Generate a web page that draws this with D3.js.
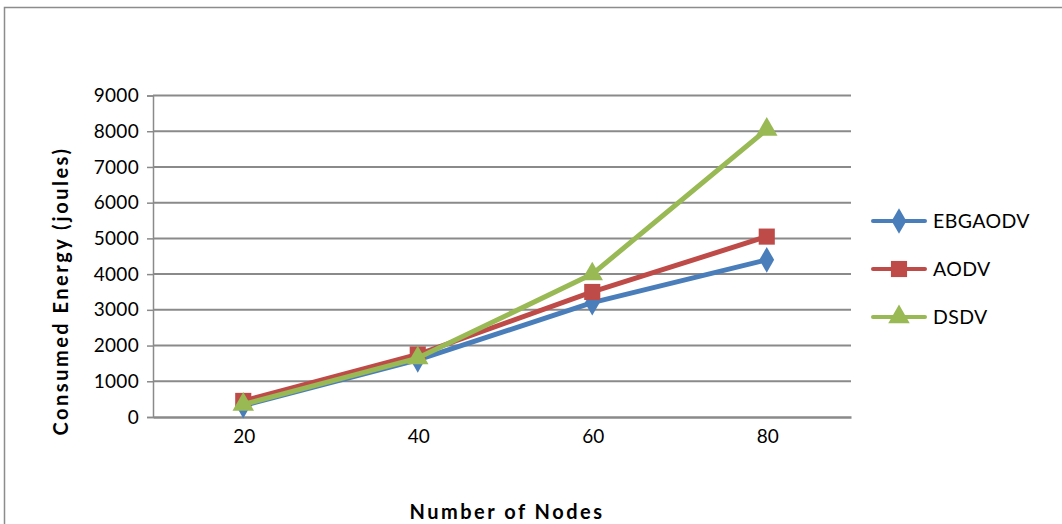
<!DOCTYPE html>
<html>
<head>
<meta charset="utf-8">
<script src="https://cdn.jsdelivr.net/npm/d3@7"></script>
<style>
  html, body { margin: 0; padding: 0; background: #fff; }
  svg { display: block; }
  text { font-family: Lato, "Open Sans", "Liberation Sans", sans-serif; fill: #000; }
</style>
</head>
<body>
<svg id="chart" width="1062" height="524"></svg>
<script>
// Number of nodes on the x axis
const nodes = ["20", "40", "60", "80"];
// Consumed energy (joules) per protocol
const ebgaodv = [320, 1600, 3200, 4400];
const aodv = [450, 1750, 3500, 5050];
const dsdv = [350, 1650, 4000, 8050];
const seriesNames = ["EBGAODV", "AODV", "DSDV"];
const yTicks = [0, 1000, 2000, 3000, 4000, 5000, 6000, 7000, 8000, 9000];

const series = [
  { name: seriesNames[0], values: ebgaodv, color: "#4A7EBB", marker: d3.symbolDiamond, size: 190 },
  { name: seriesNames[1], values: aodv, color: "#BE4B48", marker: d3.symbolSquare, size: 260 },
  { name: seriesNames[2], values: dsdv, color: "#98B954", marker: d3.symbolTriangle, size: 200 }
];

const svg = d3.select("#chart");

// chart-area frame
svg.append("rect")
  .attr("x", 4.5).attr("y", 7.5)
  .attr("width", 1080).attr("height", 540)
  .attr("fill", "none").attr("stroke", "#8c8c8c").attr("stroke-width", 1.5);

const plot = { left: 153, right: 851, top: 95.5, bottom: 417 };

const x = d3.scaleBand().domain(nodes).range([plot.left, plot.right]);
const y = d3.scaleLinear().domain([0, 9000]).range([plot.bottom, plot.top]);

// horizontal gridlines
svg.append("g")
  .selectAll("line")
  .data(yTicks.filter(d => d > 0))
  .join("line")
  .attr("x1", plot.left).attr("x2", plot.right)
  .attr("y1", d => y(d)).attr("y2", d => y(d))
  .attr("stroke", "#8a8a8a").attr("stroke-width", 2);

// value axis
const yAxis = svg.append("g")
  .attr("transform", `translate(${plot.left},0)`)
  .call(d3.axisLeft(y).tickValues(yTicks).tickSize(6).tickPadding(8).tickFormat(d3.format("d")));
yAxis.select(".domain").attr("stroke", "#8a8a8a").attr("stroke-width", 1.5);
yAxis.selectAll(".tick line").attr("stroke", "#8a8a8a").attr("stroke-width", 1.5);
yAxis.selectAll(".tick text")
  .attr("font-size", 19).attr("font-family", "Lato, 'Open Sans', sans-serif").attr("fill", "#000")
  .attr("letter-spacing", 0.3);

// category axis
const xAxis = svg.append("g")
  .attr("transform", `translate(0,${plot.bottom})`)
  .call(d3.axisBottom(x).tickSize(0).tickPadding(13));
xAxis.select(".domain").attr("stroke", "#8a8a8a").attr("stroke-width", 2.5);
xAxis.selectAll(".tick text")
  .attr("font-size", 19).attr("font-family", "Lato, 'Open Sans', sans-serif").attr("fill", "#000")
  .attr("dx", 4);

// axis titles
svg.append("text")
  .attr("transform", "translate(68,291) rotate(-90)")
  .attr("text-anchor", "middle")
  .attr("font-size", 20).attr("font-weight", "bold")
  .attr("letter-spacing", 2.5)
  .text("Consumed Energy (joules)");

svg.append("text")
  .attr("x", 507).attr("y", 519)
  .attr("text-anchor", "middle")
  .attr("font-size", 20).attr("font-weight", "bold")
  .attr("letter-spacing", 2.5)
  .text("Number of Nodes");

// series lines and markers
const cx = d => x(d) + x.bandwidth() / 2 + 3;
const line = d3.line().x(d => cx(d.n)).y(d => y(d.v));

series.forEach(s => {
  const pts = nodes.map((n, i) => ({ n, v: s.values[i] }));
  svg.append("path")
    .datum(pts)
    .attr("d", line)
    .attr("fill", "none")
    .attr("stroke", s.color)
    .attr("stroke-width", 5)
    .attr("stroke-linejoin", "round")
    .attr("stroke-linecap", "round");
  svg.append("g")
    .selectAll("path")
    .data(pts)
    .join("path")
    .attr("transform", d => `translate(${cx(d.n)},${y(d.v)})`)
    .attr("d", d3.symbol().type(s.marker).size(s.size))
    .attr("fill", s.color);
});

// legend
const legend = svg.append("g").attr("transform", "translate(873,221)");
series.forEach((s, i) => {
  const g = legend.append("g").attr("transform", `translate(0,${i * 48})`);
  g.append("line")
    .attr("x1", 0).attr("x2", 52)
    .attr("stroke", s.color).attr("stroke-width", 4).attr("stroke-linecap", "round");
  g.append("path")
    .attr("transform", "translate(26,0)")
    .attr("d", d3.symbol().type(s.marker).size(s.size))
    .attr("fill", s.color);
  g.append("text")
    .attr("x", 60).attr("y", 0).attr("dy", "0.35em")
    .attr("font-size", 19.5).attr("letter-spacing", 0.4)
    .text(s.name);
});
</script>
</body>
</html>
